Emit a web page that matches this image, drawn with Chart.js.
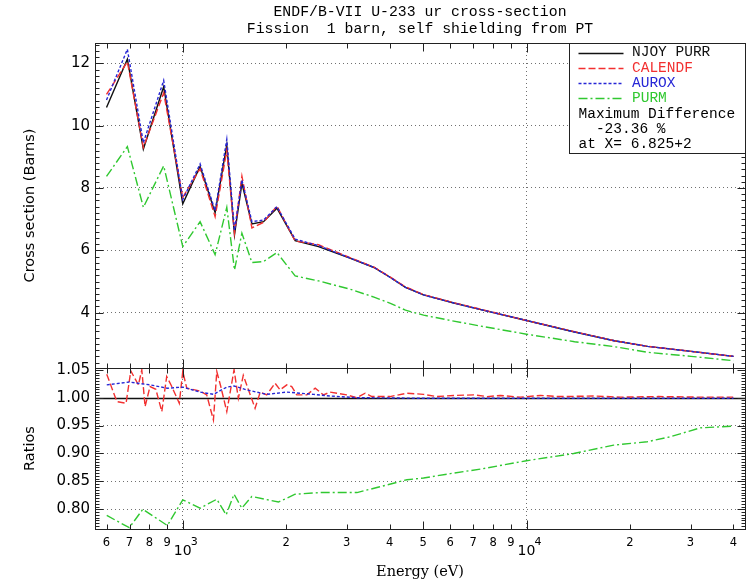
<!DOCTYPE html>
<html>
<head>
<meta charset="utf-8">
<script src="https://cdn.jsdelivr.net/npm/chart.js@4.4.1/dist/chart.umd.min.js"></script>
<style>
html,body{margin:0;padding:0;background:#fff;}
#wrap{position:relative;width:754px;height:581px;}
canvas{display:block;}
</style>
</head>
<body>
<div id="wrap"><canvas id="c" width="754" height="581"></canvas></div>
<script>
// ---------- data ----------
const energy = [600, 690, 768, 880, 1000, 1123, 1242, 1343, 1414, 1486, 1589, 1718, 1879, 2123, 2483, 3076, 3600, 4018, 4446, 5018, 6145, 7361, 10000, 13800, 18000, 22500, 30100, 40000];
const njoy    = [10.58, 12.13, 9.25, 11.25, 7.49, 8.69, 7.21, 9.38, 6.50, 8.15, 6.85, 6.92, 7.35, 6.31, 6.12, 5.74, 5.45, 5.13, 4.81, 4.57, 4.31, 4.10, 3.75, 3.38, 3.10, 2.92, 2.76, 2.60];
const calendf = [11.00, 12.05, 9.30, 11.05, 7.70, 8.62, 7.08, 9.20, 6.55, 8.38, 6.72, 6.90, 7.42, 6.30, 6.18, 5.76, 5.46, 5.14, 4.83, 4.58, 4.32, 4.11, 3.75, 3.39, 3.10, 2.92, 2.76, 2.60];
const aurox   = [10.82, 12.45, 9.45, 11.45, 7.63, 8.77, 7.27, 9.56, 6.64, 8.26, 6.92, 6.97, 7.40, 6.36, 6.15, 5.75, 5.45, 5.13, 4.81, 4.57, 4.31, 4.10, 3.75, 3.38, 3.10, 2.92, 2.76, 2.60];
const purm    = [8.37, 9.33, 7.38, 8.71, 6.12, 6.92, 5.86, 7.38, 5.37, 6.55, 5.61, 5.64, 5.93, 5.18, 5.02, 4.75, 4.50, 4.30, 4.08, 3.92, 3.73, 3.57, 3.31, 3.07, 2.91, 2.73, 2.60, 2.46];

const ratioEnergyCalendf = [601, 643, 684, 706, 743, 760, 777, 803, 835, 869, 898, 929, 977, 1000, 1027, 1123, 1174, 1228, 1256, 1290, 1343, 1410, 1451, 1500, 1623, 1680, 1755, 1855, 1920, 2008, 2075, 2146, 2296, 2428, 2565, 2683, 2998, 3212, 3393, 3548, 4007, 4488, 5017, 5489, 6141, 7028, 7682, 8394, 9594, 10990, 12570, 15680, 18770, 24160, 32070, 39930];
const ratioCalendf = [1.042, 0.993, 0.990, 1.048, 1.023, 1.050, 0.984, 1.020, 1.015, 0.975, 1.038, 1.020, 0.990, 1.047, 1.017, 1.012, 1.005, 0.960, 1.047, 1.020, 0.975, 1.050, 0.999, 1.040, 0.981, 1.010, 1.005, 1.026, 1.014, 1.023, 1.020, 1.005, 1.005, 1.017, 1.005, 1.010, 1.005, 1.000, 1.008, 1.002, 1.002, 1.008, 1.006, 1.002, 1.004, 1.005, 1.002, 1.004, 1.001, 1.004, 1.002, 1.003, 1.001, 1.002, 1.001, 1.001];

const ratioEnergyAurox = [601, 699, 803, 902, 1000, 1123, 1228, 1343, 1410, 1535, 1755, 2008, 2400, 2683, 3212, 5000, 10000, 20000, 40000];
const ratioAurox = [1.023, 1.028, 1.023, 1.017, 1.019, 1.010, 1.006, 1.019, 1.021, 1.014, 1.006, 1.010, 1.006, 1.003, 1.000, 0.999, 0.999, 0.999, 0.999];

const ratioEnergyPurm = [601, 699, 765, 902, 1000, 1123, 1256, 1337, 1410, 1485, 1588, 1898, 2123, 2510, 3212, 3671, 4488, 5017, 6001, 7338, 10000, 13714, 17929, 22430, 26220, 32070, 39930];
const ratioPurm = [0.789, 0.767, 0.800, 0.771, 0.817, 0.802, 0.818, 0.790, 0.827, 0.802, 0.823, 0.813, 0.827, 0.830, 0.830, 0.839, 0.853, 0.856, 0.864, 0.872, 0.887, 0.900, 0.915, 0.921, 0.930, 0.946, 0.949];

const ratioReference = 1.0;

const xTickValues = [600, 700, 800, 900, 1000, 2000, 3000, 4000, 5000, 6000, 7000, 8000, 9000, 10000, 20000, 30000, 40000];
const topTickValues = [4, 6, 8, 10, 12];
const ratioTickValues = [0.80, 0.85, 0.90, 0.95, 1.00, 1.05];

const seriesNames = ['NJOY PURR', 'CALENDF', 'AUROX', 'PURM'];
const titleLines = ['ENDF/B-VII U-233 ur cross-section', 'Fission  1 barn, self shielding from PT'];
const noteLines = ['Maximum Difference', '  -23.36 %', 'at X= 6.825+2'];

// ---------- styles ----------
const COLORS = ['#111111', '#f23030', '#2626d6', '#30c830'];
const DASHES = [[], [7, 3], [3, 2], [9, 3, 2, 3]];
const GRID = '#707070';

const pts = (xs, ys) => xs.map((x, i) => ({x: x, y: ys[i]}));
const ds = (label, xs, ys, k, axis) => ({
  label: label, data: pts(xs, ys), yAxisID: axis,
  borderColor: COLORS[k], borderDash: DASHES[k], borderWidth: 1.4,
  pointRadius: 0, tension: 0, fill: false
});

const datasets = [
  ds(seriesNames[3], energy, purm, 3, 'y'),
  ds(seriesNames[2], energy, aurox, 2, 'y'),
  ds(seriesNames[1], energy, calendf, 1, 'y'),
  ds(seriesNames[0], energy, njoy, 0, 'y'),
  ds(seriesNames[3] + ' ratio', ratioEnergyPurm, ratioPurm, 3, 'y2'),
  ds(seriesNames[2] + ' ratio', ratioEnergyAurox, ratioAurox, 2, 'y2'),
  ds(seriesNames[1] + ' ratio', ratioEnergyCalendf, ratioCalendf, 1, 'y2')
];

const isDecade = v => { const e = Math.log10(v); return Math.abs(e - Math.round(e)) < 1e-9; };

const deco = {
  id: 'deco',
  beforeDatasetsDraw(chart) {
    const {ctx, chartArea} = chart;
    const yb = chart.scales.y2;
    const y = Math.round(yb.getPixelForValue(ratioReference)) + 0.5;
    ctx.save();
    ctx.strokeStyle = '#111'; ctx.lineWidth = 1.3;
    ctx.beginPath(); ctx.moveTo(chartArea.left, y); ctx.lineTo(chartArea.right, y); ctx.stroke();
    ctx.restore();
  },
  afterDatasetsDraw(chart) {
    const {ctx, chartArea} = chart;
    const xs = chart.scales.x, yt = chart.scales.y, yb = chart.scales.y2;
    const L = Math.round(chartArea.left) + 0.5, R = Math.round(chartArea.right) + 0.5;
    const T = Math.round(yt.top) + 0.5, M = Math.round(yt.bottom) + 0.5, B = Math.round(yb.bottom) + 0.5;
    const line = (x1, y1, x2, y2) => { ctx.beginPath(); ctx.moveTo(x1, y1); ctx.lineTo(x2, y2); ctx.stroke(); };
    ctx.save();
    ctx.strokeStyle = '#222'; ctx.lineWidth = 1; ctx.setLineDash([]);
    // frames
    ctx.strokeRect(L, T, R - L, M - T);
    ctx.strokeRect(L, M, R - L, B - M);
    // x tick marks
    xTickValues.forEach(v => {
      const x = Math.round(xs.getPixelForValue(v)) + 0.5;
      const len = isDecade(v) ? 9 : (v === 5000 ? 8 : 5);
      line(x, T, x, T + len);
      line(x, M - len, x, M + len);
      line(x, B, x, B - len);
    });
    // y tick marks
    const yTicks = (sc, step, every) => {
      const i0 = Math.ceil(sc.min / step - 1e-9), i1 = Math.floor(sc.max / step + 1e-9);
      for (let i = i0; i <= i1; i++) {
        const y = Math.round(sc.getPixelForValue(i * step)) + 0.5;
        const len = (i % every === 0) ? 8 : 4;
        line(L, y, L + len, y);
        line(R, y, R - len, y);
      }
    };
    yTicks(yt, 0.2, 10);
    yTicks(yb, 0.005, 10);
    // x tick labels
    ctx.fillStyle = '#000'; ctx.textBaseline = 'middle';
    xTickValues.forEach(v => {
      const x = xs.getPixelForValue(v);
      const e = Math.floor(Math.log10(v) + 1e-9);
      if (isDecade(v)) {
        ctx.font = '14px "DejaVu Sans"'; ctx.textAlign = 'center';
        ctx.fillText('10', x, B + 22);
        ctx.font = '11px "DejaVu Sans"'; ctx.textAlign = 'left';
        ctx.fillText(String(e), x + 8, B + 13);
      } else {
        ctx.font = '11.5px "DejaVu Sans"'; ctx.textAlign = 'center';
        ctx.fillText(String(Math.round(v / Math.pow(10, e))), x, B + 14);
      }
    });
    // legend box
    const w = 176, h = 110;
    const x0 = R - w, y0 = T;
    ctx.fillStyle = '#fff';
    ctx.fillRect(x0, y0, w, h);
    ctx.strokeStyle = '#222';
    ctx.strokeRect(x0, y0, w, h);
    ctx.font = '14.5px "Liberation Mono"'; ctx.textAlign = 'left'; ctx.textBaseline = 'middle';
    const rowY = i => y0 + 9 + i * 15.3;
    seriesNames.forEach((name, k) => {
      const y = rowY(k);
      ctx.strokeStyle = COLORS[k]; ctx.lineWidth = 1.3; ctx.setLineDash(DASHES[k]);
      line(x0 + 9, Math.round(y) + 0.5, x0 + 54, Math.round(y) + 0.5);
      ctx.setLineDash([]);
      ctx.fillStyle = COLORS[k];
      ctx.fillText(name, x0 + 62.5, y);
    });
    ctx.fillStyle = '#000';
    noteLines.forEach((t, j) => ctx.fillText(t, x0 + 9, rowY(4 + j)));
    ctx.restore();
  }
};

new Chart(document.getElementById('c'), {
  type: 'line',
  data: {datasets: datasets},
  plugins: [deco],
  options: {
    responsive: false,
    animation: false,
    devicePixelRatio: 1,
    layout: {padding: {left: 0, right: 9, top: 0, bottom: 0}},
    plugins: {
      legend: {display: false},
      tooltip: {enabled: false},
      title: {
        display: true, text: titleLines, fullSize: false, color: '#000',
        font: {family: '"Liberation Mono"', size: 14.8, weight: 'normal', lineHeight: 1.15},
        padding: {top: 3.5, bottom: 5.46}
      }
    },
    scales: {
      x: {
        type: 'logarithmic', position: 'bottom', min: 555.5, max: 43210, bounds: 'data',
        afterBuildTicks: s => { s.ticks = xTickValues.map(v => ({value: v})); },
        afterFit: s => { s.height = 52; },
        ticks: {display: false},
        grid: {drawTicks: false, lineWidth: 1,
          color: c => (c.tick && isDecade(c.tick.value)) ? GRID : 'rgba(0,0,0,0)'},
        border: {display: false, dash: [1, 3]},
        title: {display: true, text: 'Energy (eV)', color: '#000',
          font: {family: '"DejaVu Serif"', size: 14.5, weight: 'normal'}, padding: {top: 0, bottom: 0.5}}
      },
      y: {
        type: 'linear', position: 'left', stack: 'panels', stackWeight: 325, weight: 1,
        min: 2.226, max: 12.651, bounds: 'data',
        afterBuildTicks: s => { s.ticks = topTickValues.map(v => ({value: v})); },
        afterFit: s => { s.width = 95; },
        ticks: {autoSkip: false, padding: 5, color: '#000',
          font: {family: '"DejaVu Sans"', size: 15}, callback: v => String(v)},
        grid: {drawTicks: false, color: GRID, lineWidth: 1},
        border: {display: false, dash: [1, 3]},
        title: {display: true, text: 'Cross section (Barns)', color: '#000',
          font: {family: '"DejaVu Sans"', size: 14.5, weight: 'normal'}, padding: {top: 21.3, bottom: 0}}
      },
      y2: {
        type: 'linear', position: 'left', stack: 'panels', stackWeight: 161, weight: 0,
        min: 0.7647, max: 1.0532, bounds: 'data',
        afterBuildTicks: s => { s.ticks = ratioTickValues.map(v => ({value: v})); },
        afterFit: s => { s.width = 95; },
        ticks: {autoSkip: false, padding: 5, color: '#000',
          font: {family: '"DejaVu Sans"', size: 15}, callback: v => Number(v).toFixed(2)},
        grid: {drawTicks: false, lineWidth: 1,
          color: c => (c.tick && c.tick.value < 0.99) ? GRID : 'rgba(0,0,0,0)'},
        border: {display: false, dash: [1, 3]},
        title: {display: true, text: 'Ratios', color: '#000',
          font: {family: '"DejaVu Sans"', size: 14.5, weight: 'normal'}, padding: {top: 21.3, bottom: 0}}
      }
    }
  }
});
</script>
</body>
</html>
